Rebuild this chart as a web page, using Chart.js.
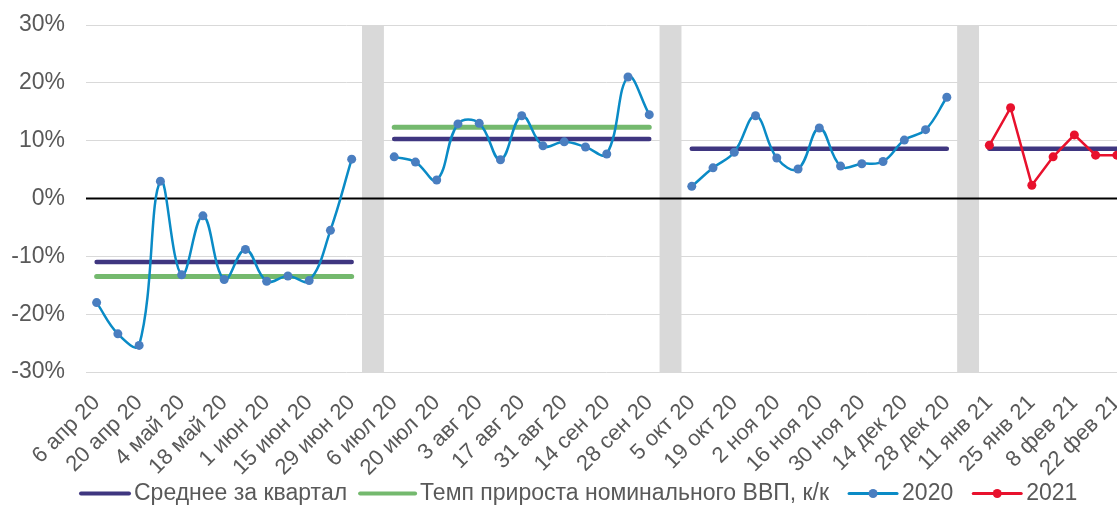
<!DOCTYPE html>
<html><head><meta charset="utf-8">
<script src="https://cdn.jsdelivr.net/npm/chart.js@4/dist/chart.umd.min.js"></script>
<style>
html,body{margin:0;padding:0;overflow:hidden;background:#fff}
#wrap{width:1132px;height:505px;position:relative}
</style>
</head><body>
<div id="wrap"><canvas id="c"></canvas></div>
<script>
// Weekly categories ('' marks the separator column between quarters)
const weeks = [
 '6 апр 20','13 апр 20','20 апр 20','27 апр 20','4 май 20','11 май 20','18 май 20','25 май 20','1 июн 20','8 июн 20','15 июн 20','22 июн 20','29 июн 20','',
 '6 июл 20','13 июл 20','20 июл 20','27 июл 20','3 авг 20','10 авг 20','17 авг 20','24 авг 20','31 авг 20','7 сен 20','14 сен 20','21 сен 20','28 сен 20','',
 '5 окт 20','12 окт 20','19 окт 20','26 окт 20','2 ноя 20','9 ноя 20','16 ноя 20','23 ноя 20','30 ноя 20','7 дек 20','14 дек 20','21 дек 20','28 дек 20','',
 '11 янв 21','18 янв 21','25 янв 21','1 фев 21','8 фев 21','15 фев 21','22 фев 21'
];
// Quarter-level values (Q2-20, Q3-20, Q4-20, Q1-21)
const quarterAvg = [-11.0, 10.3, 8.6, 8.6];
const gdpGrowth  = [-13.5, 12.3, null, null];
// Weekly series
const y2020 = [
 -18.0,-23.4,-25.4,3.0,-13.2,-3.0,-14.0,-8.8,-14.3,-13.4,-14.2,-5.5,6.8, null,
 7.2,6.3,3.2,12.9,13.0,6.7,14.3,9.1,9.8,8.9,7.7,21.0,14.5, null,
 2.1,5.3,8.0,14.3,7.0,5.1,12.2,5.6,6.0,6.4,10.1,11.9,17.5, null,
 null,null,null,null,null,null,null
];
const y2021 = [
 null,null,null,null,null,null,null,null,null,null,null,null,null, null,
 null,null,null,null,null,null,null,null,null,null,null,null,null, null,
 null,null,null,null,null,null,null,null,null,null,null,null,null, null,
 9.2,15.7,2.3,7.2,11.0,7.5,7.5
];
const yTicks = [-30,-20,-10,0,10,20,30];

// build per-week arrays from quarter values
let q = 0;
const quarterOf = weeks.map(w => { if (w === '') { q++; return -1; } return q; });
const avgSeries = quarterOf.map(i => i < 0 ? null : quarterAvg[i]);
const gdpSeries = quarterOf.map(i => i < 0 ? null : gdpGrowth[i]);
const sepBars = quarterOf.map(i => i < 0 ? [yTicks[0], yTicks[yTicks.length-1]] : null);

Chart.defaults.font.family = "'Liberation Sans', Arial, sans-serif";
Chart.defaults.color = '#595959';

const LEG_SHIFT = 12;
const legendStyle = {
  1: {color:'#3f3680', width:4, dot:null, from:2, to:50},
  2: {color:'#74b96e', width:4, dot:null, from:-5, to:50},
  3: {color:'#0a8bc6', width:3, dot:'#4a7ec0', from:2, to:50},
  4: {color:'#e8112d', width:3, dot:'#e8112d', from:2, to:50}
};

const zeroLine = {
  id:'zeroLine',
  afterDatasetDraw(chart, args){
    if (args.index !== 0) return;
    const {ctx, chartArea} = chart;
    const y = chart.scales.y.getPixelForValue(0);
    ctx.save();
    ctx.strokeStyle = '#000'; ctx.lineWidth = 2;
    ctx.beginPath(); ctx.moveTo(chartArea.left, y); ctx.lineTo(chartArea.right, y); ctx.stroke();
    ctx.restore();
  }
};
const legendMarks = {
  id:'legendMarks',
  afterLayout(chart){ if (chart.legend) chart.legend.left = 79 - LEG_SHIFT - 6; },
  afterDraw(chart){
    const lg = chart.legend; if (!lg || !lg.legendHitBoxes) return;
    const ctx = chart.ctx;
    lg.legendItems.forEach((it, i) => {
      const hb = lg.legendHitBoxes[i]; const st = legendStyle[it.datasetIndex]; if (!hb || !st) return;
      const y = hb.top + hb.height/2;
      const x0 = hb.left + LEG_SHIFT;
      ctx.save();
      ctx.strokeStyle = st.color; ctx.lineWidth = st.width; ctx.lineCap = 'round';
      ctx.beginPath(); ctx.moveTo(x0 + st.from, y); ctx.lineTo(x0 + st.to, y); ctx.stroke();
      if (st.dot) { ctx.fillStyle = st.dot; ctx.beginPath(); ctx.arc(x0 + (st.from + st.to)/2, y, 4.5, 0, Math.PI*2); ctx.fill(); }
      ctx.restore();
    });
  }
};

new Chart(document.getElementById('c'), {
  data: {
    labels: weeks,
    datasets: [
      {type:'bar', label:'sep', data: sepBars, backgroundColor:'#d9d9d9', categoryPercentage:1, barPercentage:1, order:10},
      {type:'line', label:'Среднее за квартал', data: avgSeries, borderColor:'#3f3680', borderWidth:4.5, pointRadius:0, borderCapStyle:'round', spanGaps:false, order:4},
      {type:'line', label:'Темп прироста номинального ВВП, к/к', data: gdpSeries, borderColor:'#74b96e', borderWidth:5, pointRadius:0, borderCapStyle:'round', spanGaps:false, order:3},
      {type:'line', label:'2020', data: y2020, borderColor:'#0a8bc6', borderWidth:2.5, tension:0.4, pointRadius:4.5, pointBackgroundColor:'#4a7ec0', pointBorderWidth:0, spanGaps:false, order:2},
      {type:'line', label:'2021', data: y2021, borderColor:'#e8112d', borderWidth:2.5, tension:0, pointRadius:4.5, pointBackgroundColor:'#e8112d', pointBorderWidth:0, spanGaps:false, order:1}
    ]
  },
  options: {
    responsive:true, maintainAspectRatio:false, animation:false,
    layout:{padding:{top:25, bottom:-10, left:0, right:0}},
    plugins:{
      tooltip:{enabled:false},
      legend:{
        position:'bottom', align:'start',
        labels:{
          usePointStyle:true, pointStyleWidth:43.5 + LEG_SHIFT, boxHeight:23, padding:6,
          font:{size:23}, color:'#595959',
          generateLabels(chart){
            return chart.data.datasets.map((ds, i) => ({
              text: ds.label, datasetIndex: i, pointStyle:'line',
              fillStyle:'rgba(0,0,0,0)', strokeStyle:'rgba(0,0,0,0)', lineWidth:0, hidden:false, fontColor:'#595959'
            })).filter(it => it.datasetIndex !== 0);
          }
        }
      }
    },
    scales:{
      x:{
        grid:{display:false}, border:{display:false},
        ticks:{autoSkip:false, maxRotation:45, minRotation:45, padding:10, font:{size:22}, color:'#595959',
          callback:(v, i) => i % 2 === 0 ? weeks[i] : ''},
        afterFit: s => { s.height = 104; s.paddingLeft = 0; s.paddingRight = 0; }
      },
      y:{
        min: yTicks[0], max: yTicks[yTicks.length-1],
        grid:{drawTicks:true, tickLength:21, tickColor:'rgba(0,0,0,0)', color: c => c.tick && c.tick.value === 0 ? '#000' : '#d9d9d9', lineWidth:1},
        border:{display:false},
        ticks:{stepSize:10, padding:0, font:{size:23}, color:'#595959', callback: v => v + '%'},
        afterFit: s => { s.width = 86; }
      }
    }
  },
  plugins:[zeroLine, legendMarks]
});
</script>
</body></html>
